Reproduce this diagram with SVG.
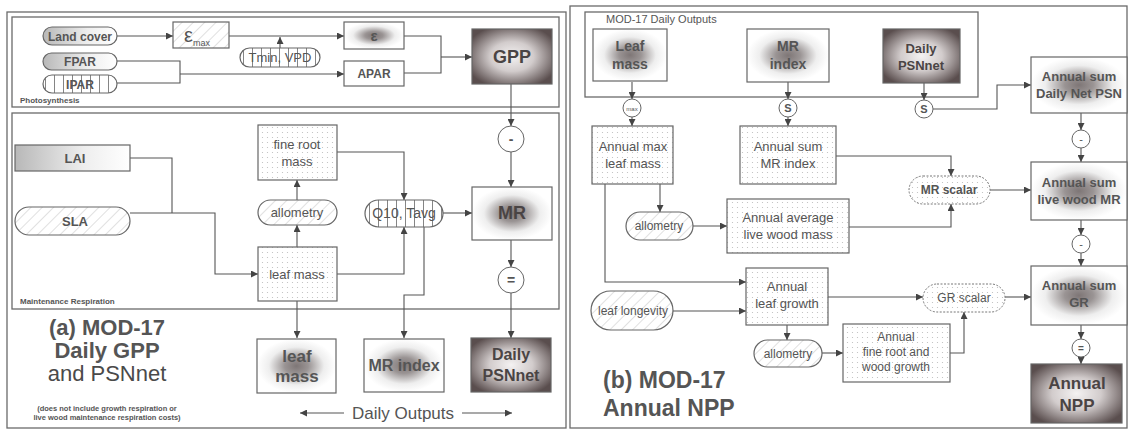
<svg xmlns="http://www.w3.org/2000/svg" width="1129" height="430" viewBox="0 0 1129 430">
<defs>
<style>
.frame{fill:none;stroke:#6a6a6a;stroke-width:1.3}
.box{stroke:#666;stroke-width:1.2}
.c{fill:none;stroke:#555;stroke-width:1.1}
.ca{fill:none;stroke:#555;stroke-width:1.1;marker-end:url(#ah)}
.t{font-family:"Liberation Sans",Arial,sans-serif;fill:#555;text-anchor:middle}
.b{font-weight:bold}
.circ{fill:#fff;stroke:#666;stroke-width:1}
</style>
<marker id="ah" viewBox="0 0 10 10" refX="10" refY="5" markerWidth="7" markerHeight="7" orient="auto" markerUnits="userSpaceOnUse"><path d="M0,0 L10,5 L0,10 z" fill="#444"/></marker>
<pattern id="hatch" width="8" height="8" patternUnits="userSpaceOnUse" patternTransform="rotate(45)"><rect width="8" height="8" fill="#fff"/><line x1="0" y1="0" x2="0" y2="8" stroke="#bbb" stroke-width="0.9"/></pattern>
<pattern id="stripe" width="9" height="9" patternUnits="userSpaceOnUse"><rect width="9" height="9" fill="#fff"/><line x1="0.5" y1="0" x2="0.5" y2="9" stroke="#777" stroke-width="0.9"/></pattern>
<pattern id="dots" width="5" height="5" patternUnits="userSpaceOnUse"><rect width="5" height="5" fill="#fff"/><circle cx="2.5" cy="2.5" r="0.6" fill="#bbb"/></pattern>
<linearGradient id="lg" x1="0" y1="0" x2="1" y2="0"><stop offset="0" stop-color="#b8b8b8"/><stop offset="0.6" stop-color="#eee"/><stop offset="1" stop-color="#fff"/></linearGradient>
<radialGradient id="blob" cx="0.5" cy="0.5" r="0.5"><stop offset="0" stop-color="#7e7676"/><stop offset="0.3" stop-color="#9a9494"/><stop offset="0.7" stop-color="#eee"/><stop offset="1" stop-color="#fff"/></radialGradient>
<radialGradient id="dark" cx="0.5" cy="0.5" r="0.6"><stop offset="0" stop-color="#f4f2f2"/><stop offset="0.45" stop-color="#d2cccc"/><stop offset="1" stop-color="#5a4e4e"/></radialGradient>
</defs>
<rect width="1129" height="430" fill="#fff"/>

<g id="frames">
<rect class="frame" x="7" y="12" width="559" height="416"/>
<rect class="frame" x="12" y="17" width="547" height="90"/>
<rect class="frame" x="12" y="113" width="547" height="196"/>
<rect class="frame" x="570" y="6" width="557" height="422"/>
<rect class="frame" x="585" y="12" width="393" height="85"/>
<text class="t b" x="20" y="103" style="font-size:8px;text-anchor:start">Photosynthesis</text>
<text class="t b" x="20" y="304" style="font-size:8px;text-anchor:start">Maintenance Respiration</text>
<text class="t" x="606" y="23" style="font-size:11px;text-anchor:start">MOD-17 Daily Outputs</text>
</g>

<g id="connectors">
<path class="ca" d="M117,36 H173"/>
<path class="ca" d="M229,36 H344"/>
<path class="ca" d="M280,48 V37"/>
<path class="c" d="M117,61 H180 V83 H117"/>
<path class="ca" d="M180,74 H344"/>
<path class="c" d="M404,36 H441 V73 H404"/>
<path class="ca" d="M441,57 H472"/>
<path class="ca" d="M511,84 V126"/>
<path class="ca" d="M511,152 V187"/>
<path class="ca" d="M511,240 V267"/>
<path class="ca" d="M511,293 V338"/>
<path class="c" d="M130,158 H172 V213"/>
<path class="ca" d="M130,213 H215 V274 H258"/>
<path class="ca" d="M297,247 V225"/>
<path class="ca" d="M297,200 V180"/>
<path class="ca" d="M337,152 H404 V200"/>
<path class="ca" d="M337,274 H404 V227"/>
<path class="ca" d="M443,213 H472"/>
<path class="ca" d="M424,227 V295 H404 V338"/>
<path class="ca" d="M297,301 V338"/>
<path class="ca" d="M344,413 H300"/>
<path class="ca" d="M462,413 H512"/>

<path class="ca" d="M632,82 V99"/>
<path class="ca" d="M632,117 V126"/>
<path class="ca" d="M788,82 V99"/>
<path class="ca" d="M788,117 V126"/>
<path class="ca" d="M924,83 V100"/>
<path class="ca" d="M933,109 H997 V85 H1031"/>
<path class="ca" d="M1081,113 V130"/>
<path class="ca" d="M1081,148 V162"/>
<path class="ca" d="M1081,220 V235"/>
<path class="ca" d="M1081,253 V266"/>
<path class="ca" d="M1081,325 V339"/>
<path class="ca" d="M1081,357 V364"/>
<path class="ca" d="M660,184 V212"/>
<path class="ca" d="M605,184 V282 H746"/>
<path class="ca" d="M693,226 H727"/>
<path class="ca" d="M836,156 H951 V176"/>
<path class="ca" d="M849,227 H951 V204"/>
<path class="ca" d="M990,190 H1031"/>
<path class="ca" d="M673,311 H746"/>
<path class="ca" d="M828,297 H923"/>
<path class="ca" d="M787,325 V340"/>
<path class="ca" d="M822,353 H843"/>
<path class="ca" d="M950,353 H964 V312"/>
<path class="ca" d="M1005,297 H1031"/>
</g>

<g id="landcover"><rect class="box" x="43" y="27" width="74" height="18" rx="9" fill="url(#lg)"/><text class="t b" x="80" y="41" style="font-size:12px">Land cover</text></g>
<g id="epsmax"><rect class="box" x="173" y="22" width="56" height="26" fill="url(#hatch)"/><text class="t" x="197" y="42" style="font-size:20px">ε<tspan dy="4" style="font-size:9px">max</tspan></text></g>
<g id="tminvpd"><rect class="box" x="240" y="48" width="80" height="19" rx="9.5" fill="url(#stripe)"/><text class="t" x="280" y="62" style="font-size:13px">Tmin, VPD</text></g>
<g id="fpar"><rect class="box" x="43" y="53" width="74" height="17" rx="8.5" fill="url(#lg)"/><text class="t b" x="80" y="66" style="font-size:12px">FPAR</text></g>
<g id="ipar"><rect class="box" x="43" y="75" width="74" height="18" rx="9" fill="url(#stripe)"/><text class="t b" x="80" y="89" style="font-size:12px">IPAR</text></g>
<g id="eps"><rect class="box" x="344" y="22" width="60" height="27" fill="url(#blob)"/><text class="t b" x="374" y="41" style="font-size:15px">ε</text></g>
<g id="apar"><rect class="box" x="344" y="61" width="60" height="25" fill="#fff"/><text class="t b" x="374" y="78" style="font-size:12px">APAR</text></g>
<g id="gpp"><rect class="box" x="472" y="29" width="80" height="55" fill="url(#dark)"/><text class="t b" x="512" y="63" style="font-size:18px;fill:#4a4444">GPP</text></g>

<g id="lai"><rect class="box" x="15" y="145" width="115" height="26" fill="url(#lg)"/><text class="t b" x="75" y="163" style="font-size:13px">LAI</text></g>
<g id="sla"><rect class="box" x="15" y="207" width="115" height="28" rx="14" fill="url(#hatch)"/><text class="t b" x="75" y="226" style="font-size:13px">SLA</text></g>
<g id="fineroot"><rect class="box" x="258" y="125" width="79" height="55" fill="url(#dots)"/><text class="t" x="297" y="149" style="font-size:13px">fine root</text><text class="t" x="297" y="166" style="font-size:13px">mass</text></g>
<g id="allom1"><rect class="box" x="258" y="200" width="79" height="25" rx="12.5" fill="url(#hatch)"/><text class="t" x="297" y="217" style="font-size:13px">allometry</text></g>
<g id="leafmass"><rect class="box" x="258" y="247" width="79" height="54" fill="url(#dots)"/><text class="t" x="297" y="279" style="font-size:13px">leaf mass</text></g>
<g id="q10"><rect class="box" x="365" y="200" width="78" height="27" rx="13.5" fill="url(#stripe)"/><text class="t" x="404" y="218" style="font-size:14px">Q10, Tavg</text></g>
<g id="minus1"><circle class="circ" cx="511" cy="139" r="13"/><text class="t b" x="511" y="144" style="font-size:14px">-</text></g>
<g id="mr"><rect class="box" x="472" y="187" width="80" height="53" fill="url(#blob)"/><text class="t b" x="512" y="219" style="font-size:18px;fill:#4a4444">MR</text></g>
<g id="eq1"><circle class="circ" cx="511" cy="280" r="13"/><text class="t b" x="511" y="285" style="font-size:14px">=</text></g>

<g id="out_leaf"><rect class="box" x="257" y="339" width="79" height="54" fill="url(#blob)"/><text class="t b" x="297" y="362" style="font-size:17px">leaf</text><text class="t b" x="297" y="382" style="font-size:17px">mass</text></g>
<g id="out_mr"><rect class="box" x="364" y="339" width="80" height="53" fill="url(#blob)"/><text class="t b" x="404" y="371" style="font-size:16px">MR index</text></g>
<g id="out_psn"><rect class="box" x="471" y="338" width="80" height="54" fill="url(#dark)"/><text class="t b" x="511" y="360" style="font-size:16px;fill:#4a4444">Daily</text><text class="t b" x="511" y="381" style="font-size:16px;fill:#4a4444">PSNnet</text></g>
<text class="t" x="403" y="419" style="font-size:17px">Daily Outputs</text>

<g id="title_a">
<text class="t b" x="107" y="335" style="font-size:22px">(a) MOD-17</text>
<text class="t b" x="107" y="358" style="font-size:22px">Daily GPP</text>
<text class="t" x="107" y="381" style="font-size:22px;fill:#4a4a4a">and PSNnet</text>
<text class="t b" x="107" y="411" style="font-size:7.5px">(does not include growth respiration or</text>
<text class="t b" x="107" y="420" style="font-size:7.5px">live wood maintenance respiration costs)</text>
</g>

<g id="r_leafmass"><rect class="box" x="593" y="29" width="74" height="52" fill="url(#blob)"/><text class="t b" x="630" y="51" style="font-size:14px">Leaf</text><text class="t b" x="630" y="69" style="font-size:14px">mass</text></g>
<g id="r_mrindex"><rect class="box" x="747" y="29" width="82" height="53" fill="url(#blob)"/><text class="t b" x="788" y="51" style="font-size:14px">MR</text><text class="t b" x="788" y="69" style="font-size:14px">index</text></g>
<g id="r_psn"><rect class="box" x="883" y="29" width="77" height="54" fill="url(#dark)"/><text class="t b" x="921" y="53" style="font-size:13px;fill:#4a4444">Daily</text><text class="t b" x="921" y="70" style="font-size:13px;fill:#4a4444">PSNnet</text></g>
<g id="c_max"><circle class="circ" cx="632" cy="108" r="9"/><text class="t" x="632" y="111" style="font-size:6px">max</text></g>
<g id="c_s1"><circle class="circ" cx="788" cy="108" r="9"/><text class="t b" x="788" y="112" style="font-size:11px">S</text></g>
<g id="c_s2"><circle class="circ" cx="924" cy="109" r="9"/><text class="t b" x="924" y="113" style="font-size:11px">S</text></g>
<g id="r_sumpsn"><rect class="box" x="1031" y="57" width="96" height="56" fill="url(#blob)"/><text class="t b" x="1079" y="81" style="font-size:13px">Annual sum</text><text class="t b" x="1079" y="98" style="font-size:13px">Daily Net PSN</text></g>
<g id="c_m1"><circle class="circ" cx="1081" cy="139" r="9"/><text class="t" x="1081" y="143" style="font-size:11px">-</text></g>
<g id="r_sumlw"><rect class="box" x="1031" y="162" width="96" height="58" fill="url(#blob)"/><text class="t b" x="1079" y="187" style="font-size:13px">Annual sum</text><text class="t b" x="1079" y="204" style="font-size:13px">live wood MR</text></g>
<g id="c_m2"><circle class="circ" cx="1081" cy="244" r="9"/><text class="t" x="1081" y="248" style="font-size:11px">-</text></g>
<g id="r_sumgr"><rect class="box" x="1031" y="266" width="96" height="59" fill="url(#blob)"/><text class="t b" x="1079" y="290" style="font-size:13px">Annual sum</text><text class="t b" x="1079" y="307" style="font-size:13px">GR</text></g>
<g id="c_eq"><circle class="circ" cx="1081" cy="348" r="9"/><text class="t b" x="1081" y="352" style="font-size:10px">=</text></g>
<g id="r_npp"><rect class="box" x="1031" y="364" width="91" height="59" fill="url(#dark)"/><text class="t b" x="1077" y="389" style="font-size:17px;fill:#4a4444">Annual</text><text class="t b" x="1077" y="411" style="font-size:17px;fill:#4a4444">NPP</text></g>

<g id="r_maxleaf"><rect class="box" x="592" y="126" width="81" height="58" fill="url(#dots)"/><text class="t" x="633" y="151" style="font-size:13px">Annual max</text><text class="t" x="633" y="168" style="font-size:13px">leaf mass</text></g>
<g id="r_summr"><rect class="box" x="740" y="126" width="96" height="58" fill="url(#dots)"/><text class="t" x="788" y="151" style="font-size:13px">Annual sum</text><text class="t" x="788" y="168" style="font-size:13px">MR index</text></g>
<g id="r_allom1"><rect class="box" x="626" y="212" width="67" height="28" rx="14" fill="url(#hatch)"/><text class="t" x="659" y="230" style="font-size:12px">allometry</text></g>
<g id="r_avglw"><rect class="box" x="727" y="199" width="122" height="54" fill="url(#dots)"/><text class="t" x="788" y="222" style="font-size:13px">Annual average</text><text class="t" x="788" y="239" style="font-size:13px">live wood mass</text></g>
<g id="r_mrscalar"><rect x="909" y="176" width="81" height="28" rx="14" fill="url(#dots)" stroke="#777" stroke-width="1" stroke-dasharray="2,1.5"/><text class="t b" x="949" y="194" style="font-size:12px">MR scalar</text></g>
<g id="r_leafgrowth"><rect class="box" x="746" y="268" width="82" height="57" fill="url(#dots)"/><text class="t" x="787" y="291" style="font-size:13px">Annual</text><text class="t" x="787" y="308" style="font-size:13px">leaf growth</text></g>
<g id="r_longevity"><rect class="box" x="591" y="291" width="82" height="39" rx="19.5" fill="url(#hatch)"/><text class="t" x="633" y="315" style="font-size:12px">leaf longevity</text></g>
<g id="r_allom2"><rect class="box" x="754" y="340" width="68" height="27" rx="13.5" fill="url(#hatch)"/><text class="t" x="788" y="358" style="font-size:12px">allometry</text></g>
<g id="r_fineroot"><rect class="box" x="843" y="324" width="107" height="58" fill="url(#dots)"/><text class="t" x="896" y="341" style="font-size:12px">Annual</text><text class="t" x="896" y="356" style="font-size:12px">fine root and</text><text class="t" x="896" y="371" style="font-size:12px">wood growth</text></g>
<g id="r_grscalar"><rect x="923" y="284" width="82" height="28" rx="14" fill="url(#dots)" stroke="#777" stroke-width="1" stroke-dasharray="2,1.5"/><text class="t" x="964" y="302" style="font-size:12px">GR scalar</text></g>

<g id="title_b">
<text class="t b" x="603" y="388" style="font-size:23px;text-anchor:start">(b) MOD-17</text>
<text class="t b" x="603" y="416" style="font-size:23px;text-anchor:start">Annual NPP</text>
</g>
</svg>
